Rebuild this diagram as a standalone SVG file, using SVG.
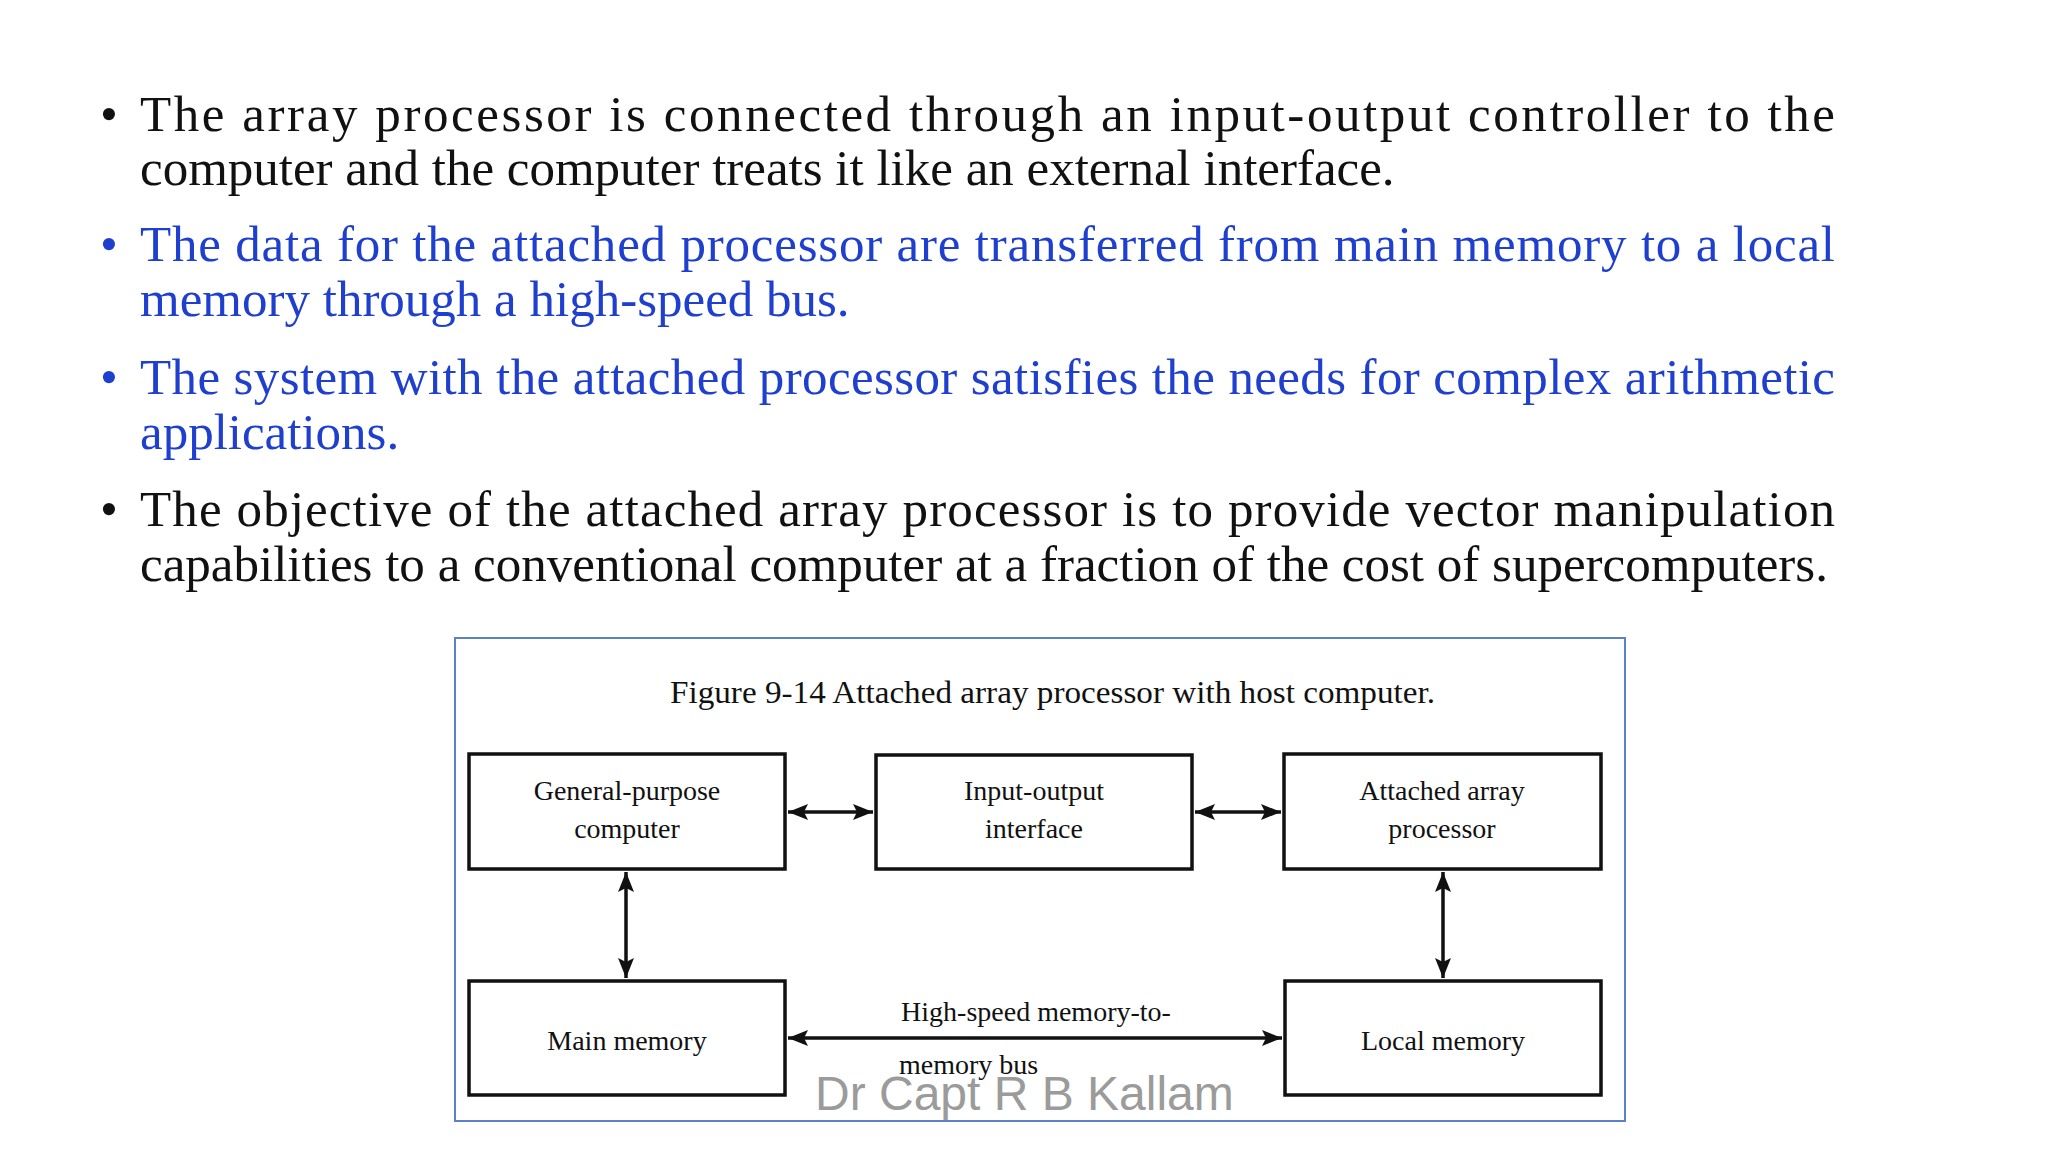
<svg xmlns="http://www.w3.org/2000/svg" width="2048" height="1152" viewBox="0 0 2048 1152">
<defs>
<marker id="ah" viewBox="0 0 10 10" refX="10" refY="5" markerWidth="20" markerHeight="16" orient="auto-start-reverse" markerUnits="userSpaceOnUse" preserveAspectRatio="none"><path d="M0,0 L10,5 L0,10 L2,5 Z" fill="#111"/></marker>
<style>
.b{font-family:"Liberation Serif",serif;font-size:51px;fill:#111}
.bl{fill:#1f3fcf}
.box{fill:#fff;stroke:#111;stroke-width:3.5}
.t{font-family:"Liberation Serif",serif;font-size:28px;fill:#111;text-anchor:middle}
.c{stroke:#111;stroke-width:3.5;fill:none;marker-start:url(#ah);marker-end:url(#ah)}
</style>
</defs>
<rect width="2048" height="1152" fill="#fff"/>
<g id="bullets">
<text class="b" x="100" y="131">•</text>
<text class="b" x="140" y="131" textLength="1695" lengthAdjust="spacing">The array processor is connected through an input-output controller to the</text>
<text class="b" x="140" y="185">computer and the computer treats it like an external interface.</text>
<text class="b bl" x="100" y="261">•</text>
<text class="b bl" x="140" y="261" textLength="1695" lengthAdjust="spacing">The data for the attached processor are transferred from main memory to a local</text>
<text class="b bl" x="140" y="316">memory through a high-speed bus.</text>
<text class="b bl" x="100" y="394">•</text>
<text class="b bl" x="140" y="394" textLength="1695" lengthAdjust="spacing">The system with the attached processor satisfies the needs for complex arithmetic</text>
<text class="b bl" x="140" y="449">applications.</text>
<text class="b" x="100" y="526">•</text>
<text class="b" x="140" y="526" textLength="1695" lengthAdjust="spacing">The objective of the attached array processor is to provide vector manipulation</text>
<text class="b" x="140" y="581" textLength="1688" lengthAdjust="spacingAndGlyphs">capabilities to a conventional computer at a fraction of the cost of supercomputers.</text>
</g>
<rect x="455" y="638" width="1170" height="483" fill="#fff" stroke="#5b82c8" stroke-width="2"/>
<text x="670" y="703" font-family="Liberation Serif,serif" font-size="31" fill="#111" textLength="765" lengthAdjust="spacingAndGlyphs">Figure 9-14   Attached array processor with host computer.</text>
<g id="gp"><rect class="box" x="469" y="754" width="316" height="115"/><text class="t" x="627" y="800">General-purpose</text><text class="t" x="627" y="838">computer</text></g>
<g id="io"><rect class="box" x="876" y="755" width="316" height="114"/><text class="t" x="1034" y="800">Input-output</text><text class="t" x="1034" y="838">interface</text></g>
<g id="aap"><rect class="box" x="1284" y="754" width="317" height="115"/><text class="t" x="1442" y="800">Attached array</text><text class="t" x="1442" y="838">processor</text></g>
<g id="mm"><rect class="box" x="469" y="981" width="316" height="114"/><text class="t" x="627" y="1050">Main memory</text></g>
<g id="lm"><rect class="box" x="1285" y="981" width="316" height="114"/><text class="t" x="1443" y="1050">Local memory</text></g>
<g id="connectors">
<line class="c" x1="788" y1="812" x2="873" y2="812"/>
<line class="c" x1="1195" y1="812" x2="1281" y2="812"/>
<line class="c" x1="626" y1="872" x2="626" y2="978"/>
<line class="c" x1="1443" y1="872" x2="1443" y2="978"/>
<line class="c" x1="788" y1="1038" x2="1282" y2="1038"/>
<text class="t" x="1036" y="1021">High-speed memory-to-</text>
<text class="t" x="899" y="1074" style="text-anchor:start">memory bus</text>
</g>
<text x="815" y="1110" font-family="Liberation Sans,sans-serif" font-size="48" fill="#8a8a8a" opacity="0.85">Dr Capt R B Kallam</text>
</svg>
